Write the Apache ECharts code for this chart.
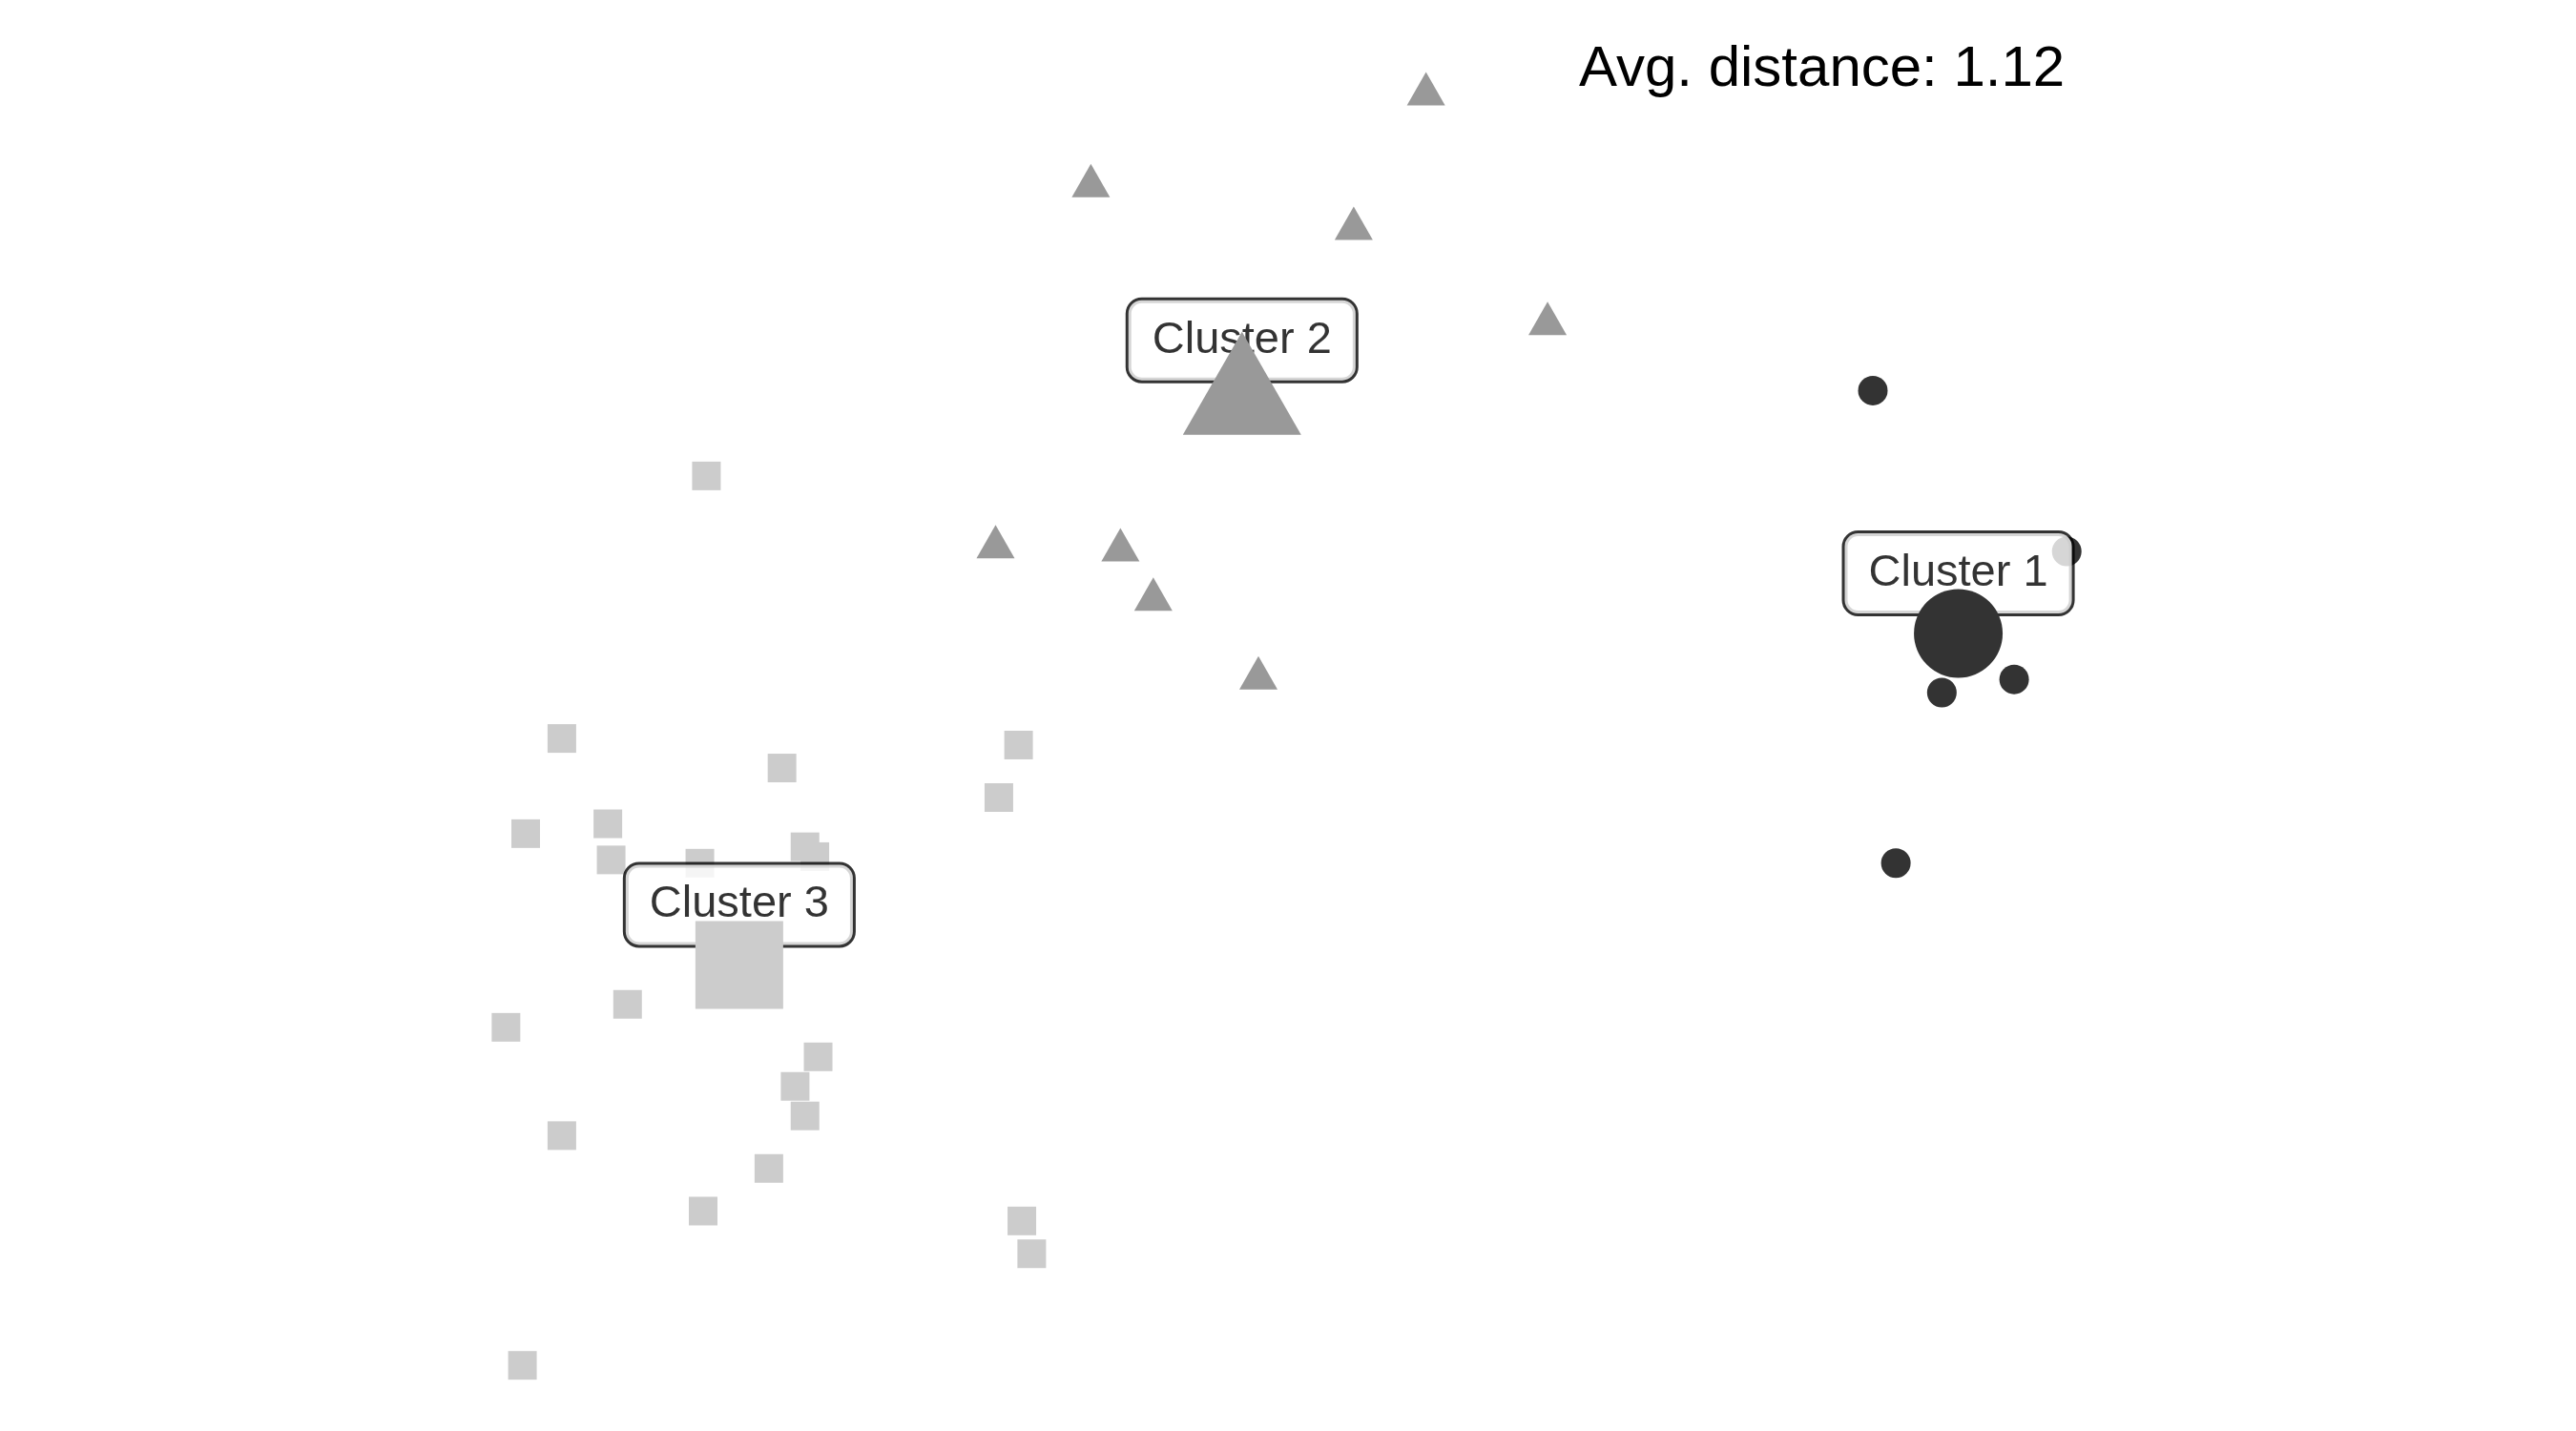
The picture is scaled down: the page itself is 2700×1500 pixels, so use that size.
<!DOCTYPE html>
<html>
<head>
<meta charset="utf-8">
<style>
  html, body { margin: 0; padding: 0; background: #ffffff; }
  #container { width: 2700px; height: 1500px; }
</style>
<script src="https://cdn.jsdelivr.net/npm/echarts@6/dist/echarts.min.js"></script>
</head>
<body>
<div id="container"></div>
<script>
var dom = document.getElementById('container');

var myChart = echarts.init(dom, null, {
    renderer: 'canvas',
    useDirtyRect: false
});

var option;

// points of each cluster, [dim1, dim2]
var cluster1Points = [
    [1.80, 1.31],
    [2.39, 0.82],
    [2.23, 0.43],
    [2.01, 0.39],
    [1.87, -0.13]
];

var cluster2Points = [
    [0.44, 2.23],
    [-0.58, 1.95],
    [0.22, 1.82],
    [0.81, 1.53],
    [-0.87, 0.85],
    [-0.49, 0.84],
    [-0.39, 0.69],
    [-0.07, 0.45]
];

var cluster3Points = [
    [-1.75, 1.05],
    [-2.19, 0.25],
    [-1.52, 0.16],
    [-0.80, 0.23],
    [-0.86, 0.07],
    [-2.30, -0.04],
    [-2.05, -0.01],
    [-2.04, -0.12],
    [-1.77, -0.13],
    [-1.45, -0.08],
    [-1.42, -0.11],
    [-2.36, -0.63],
    [-1.99, -0.56],
    [-1.41, -0.72],
    [-1.48, -0.81],
    [-1.45, -0.90],
    [-2.19, -0.96],
    [-1.56, -1.06],
    [-1.76, -1.19],
    [-0.79, -1.22],
    [-0.76, -1.32],
    [-2.31, -1.66]
];

// cluster centres
var clusterNames = ['Cluster 1', 'Cluster 2', 'Cluster 3'];
var centroids = [
    [2.06, 0.57],
    [-0.12, 1.28],
    [-1.65, -0.44]
];

var avgDistance = 1.12;

var clusterColors = ['#333333', '#999999', '#cccccc'];
var smallSymbols = ['circle', 'triangle', 'rect'];
var fontFamily = '"Liberation Sans", Arial, Helvetica, sans-serif';

var pointSets = [cluster1Points, cluster2Points, cluster3Points];
var series = [];

// small points
for (var i = 0; i < pointSets.length; i++) {
    series.push({
        type: 'scatter',
        name: clusterNames[i],
        z: 2,
        data: pointSets[i],
        symbol: smallSymbols[i],
        symbolSize: i === 1 ? [40, 35] : (i === 0 ? 31 : 30),
        itemStyle: { color: clusterColors[i], opacity: 1 },
        silent: true
    });
}

// labels (drawn above points, below the centroid markers)
series.push({
    type: 'scatter',
    z: 3,
    symbolSize: 0,
    data: centroids.map(function (c, i) {
        return { value: c, name: clusterNames[i] };
    }),
    label: {
        show: true,
        position: 'inside',
        offset: [0, -63],
        formatter: '{b}',
        color: '#000000',
        fontFamily: fontFamily,
        fontSize: 47,
        lineHeight: 54,
        backgroundColor: '#ffffff',
        borderColor: '#000000',
        borderWidth: 3,
        borderRadius: 14,
        padding: [15, 25, 15, 25]
    },
    silent: true
});

// centroid markers
var bigSymbols = ['circle', 'triangle', 'rect'];
for (var j = 0; j < centroids.length; j++) {
    series.push({
        type: 'scatter',
        z: 4,
        data: [centroids[j]],
        symbol: bigSymbols[j],
        symbolSize: j === 1 ? [124, 108] : (j === 0 ? 93 : 92),
        symbolOffset: j === 1 ? [0, -18] : [0, 0],
        itemStyle: { color: clusterColors[j], opacity: 1 },
        silent: true
    });
}

option = {
    animation: false,
    backgroundColor: '#ffffff',
    title: {
        text: 'Avg. distance: ' + avgDistance.toFixed(2),
        left: 1655,
        top: 43,
        padding: 0,
        textStyle: {
            fontFamily: fontFamily,
            fontSize: 60,
            fontWeight: 'normal',
            color: '#000000'
        }
    },
    grid: {
        left: 0,
        right: 0,
        top: 0,
        bottom: 0
    },
    xAxis: {
        type: 'value',
        min: -3.9,
        max: 3.94,
        show: false,
        splitLine: { show: false }
    },
    yAxis: {
        type: 'value',
        min: -1.86,
        max: 2.5,
        show: false,
        splitLine: { show: false }
    },
    series: series
};

if (option && typeof option === 'object') {
    myChart.setOption(option);
}

window.addEventListener('resize', myChart.resize);
</script>
</body>
</html>
